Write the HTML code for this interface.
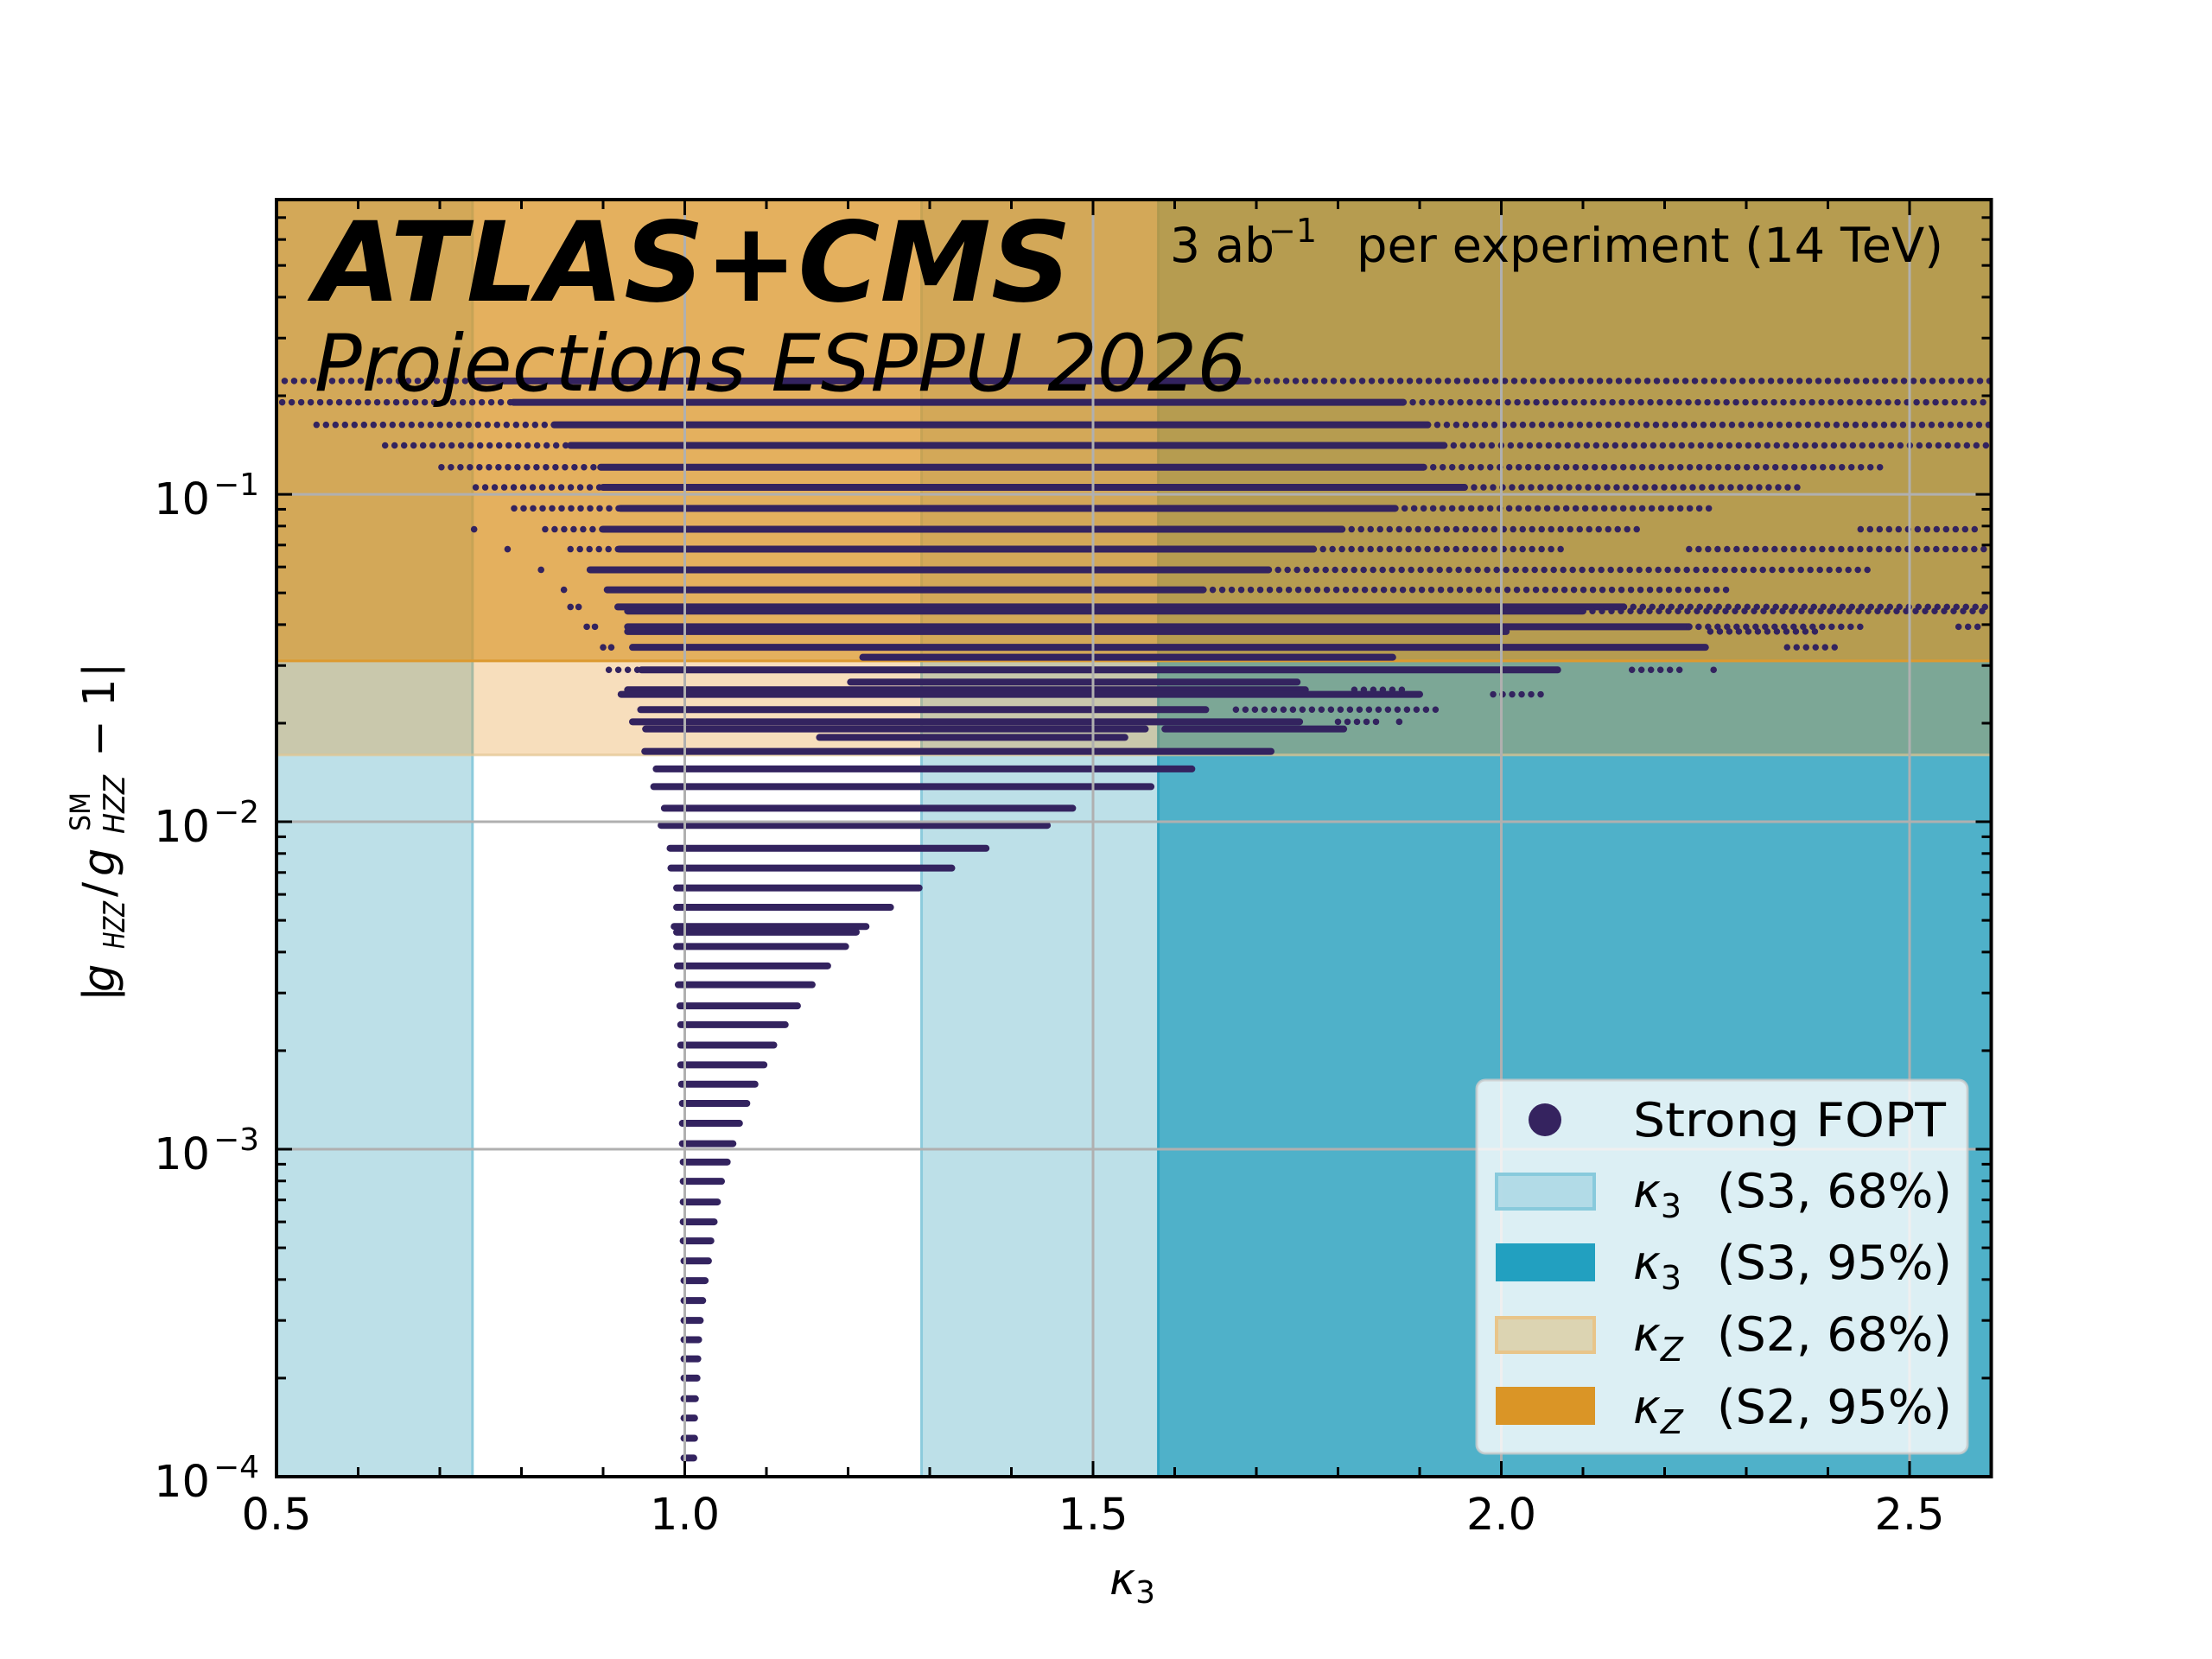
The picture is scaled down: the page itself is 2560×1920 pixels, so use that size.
<!DOCTYPE html>
<html><head><meta charset="utf-8">
<style>
html,body{margin:0;padding:0;background:#fff;}
svg{display:block;font-family:"DejaVu Sans","Liberation Sans",sans-serif;}
</style></head>
<body>
<svg id="chart" width="2560" height="1920" viewBox="0 0 2560 1920" xmlns="http://www.w3.org/2000/svg">
<rect x="0" y="0" width="2560" height="1920" fill="#ffffff"/>
<g id="bands"></g>
<g id="points"></g>
<g id="grid"></g>
<g id="texts">
  <text x="364" y="348" font-size="128" font-weight="bold" font-style="italic" textLength="876" lengthAdjust="spacingAndGlyphs">ATLAS+CMS</text>
  <text x="364" y="452" font-size="91" font-style="italic" textLength="1079" lengthAdjust="spacingAndGlyphs">Projections ESPPU 2026</text>
  <text x="1354" y="303" font-size="55">3 ab</text>
  <text x="1468" y="280" font-size="38">−1</text>
  <text x="1570" y="303" font-size="55" textLength="679" lengthAdjust="spacingAndGlyphs">per experiment (14 TeV)</text>
</g>
<g id="legend">
  <rect x="1709" y="1250" width="568" height="432" rx="10" fill="#ffffff" fill-opacity="0.8" stroke="#cccccc" stroke-opacity="0.8" stroke-width="3"/>
  <circle cx="1788" cy="1296" r="19" fill="#35235f"/>
  <text x="1890" y="1315" font-size="54" textLength="362" lengthAdjust="spacingAndGlyphs">Strong FOPT</text>
  <rect x="1732" y="1359" width="113" height="40" fill="#add8e6" fill-opacity="0.9" stroke="#88cadc" stroke-width="4"/>
  <text x="1890" y="1397" font-size="54"><tspan font-style="italic">κ</tspan><tspan font-size="38" dy="12">3</tspan></text>
  <text x="1987" y="1397" font-size="54" textLength="272" lengthAdjust="spacingAndGlyphs">(S3, 68%)</text>
  <rect x="1731" y="1439" width="115" height="44" fill="#22a0c0"/>
  <text x="1890" y="1480" font-size="54"><tspan font-style="italic">κ</tspan><tspan font-size="38" dy="12">3</tspan></text>
  <text x="1987" y="1480" font-size="54" textLength="272" lengthAdjust="spacingAndGlyphs">(S3, 95%)</text>
  <rect x="1732" y="1525" width="113" height="40" fill="#dcd4b2" stroke="#e8c58a" stroke-width="4"/>
  <text x="1890" y="1563" font-size="54"><tspan font-style="italic">κ</tspan><tspan font-size="38" font-style="italic" dy="12">Z</tspan></text>
  <text x="1987" y="1563" font-size="54" textLength="272" lengthAdjust="spacingAndGlyphs">(S2, 68%)</text>
  <rect x="1731" y="1605" width="115" height="44" fill="#da9526"/>
  <text x="1890" y="1647" font-size="54"><tspan font-style="italic">κ</tspan><tspan font-size="38" font-style="italic" dy="12">Z</tspan></text>
  <text x="1987" y="1647" font-size="54" textLength="272" lengthAdjust="spacingAndGlyphs">(S2, 95%)</text>
</g>
<g id="axes"></g>
<g>
  <text x="1284" y="1845" font-size="51" font-style="italic">κ<tspan font-size="36" font-style="normal" dy="10">3</tspan></text>
  <g transform="translate(132,968) rotate(-90)">
    <text x="-191" y="0" font-size="51">|</text>
    <text x="-180" y="0" font-size="51" font-style="italic">g</text>
    <text x="-130" y="12" font-size="34" font-style="italic" textLength="55" lengthAdjust="spacingAndGlyphs">HZZ</text>
    <text x="-70" y="0" font-size="51">/</text>
    <text x="-46" y="0" font-size="51" font-style="italic">g</text>
    <text x="6" y="-28" font-size="32" textLength="45" lengthAdjust="spacingAndGlyphs">SM</text>
    <text x="3" y="12" font-size="34" font-style="italic" textLength="68" lengthAdjust="spacingAndGlyphs">HZZ</text>
    <text x="92" y="0" font-size="51">−</text>
    <text x="150" y="0" font-size="51">1</text>
    <text x="184" y="0" font-size="51">|</text>
  </g>
</g>
</svg>
<script>
// ---- data ----
const xTicks = [0.5, 1.0, 1.5, 2.0, 2.5];
const xTickLabels = ["0.5", "1.0", "1.5", "2.0", "2.5"];
const yTicks = [1e-4, 1e-3, 1e-2, 1e-1];
const yTickExps = ["−4", "−3", "−2", "−1"];
const k3Band68 = [0.74, 1.29];
const k3Band95Low = 1.58;
const kzBand68 = 0.016;
const kzBand95 = 0.031;
// scan rows: y value, dense segments, sparse segments, isolated points (x = kappa3)
const rowVals = [0.222,0.191,0.163,0.141,0.121,0.105,0.0906,0.0782,0.068,0.0588,0.0511,0.0453,0.0440,0.0394,0.0381,0.0341,0.0318,0.0291,0.0267,0.0253,0.0245,0.0220,0.0202,0.0192,0.0181,0.0164,0.0145,0.0128,0.0110,
 9.75e-3,8.3e-3,7.22e-3,6.28e-3,5.48e-3,4.79e-3,4.6e-3,4.16e-3,3.63e-3,3.18e-3,2.74e-3,2.40e-3,2.08e-3,1.81e-3,1.58e-3,1.38e-3,1.2e-3,1.04e-3,9.14e-4,7.98e-4,6.9e-4,6.0e-4,5.25e-4,4.56e-4,3.97e-4,3.45e-4,3.0e-4,2.62e-4,2.29e-4,2.0e-4,1.73e-4,1.51e-4,1.31e-4,1.14e-4];
const rowDense = [
 [[0.746,1.69]],[[0.79,1.88]],[[0.84,1.91]],[[0.86,1.93]],[[0.897,1.905]],[[0.90,1.955]],[[0.921,1.87]],[[0.90,1.805]],[[0.92,1.77]],[[0.884,1.715]],
 [[0.905,1.635]],[[0.918,2.15]],[[0.93,2.10]],[[0.93,2.23]],[[0.93,2.006]],[[0.936,2.25]],[[1.218,1.867]],[[0.947,2.069]],[[1.203,1.75]],[[0.93,1.76]],
 [[0.922,1.90]],[[0.946,1.638]],[[0.936,1.753]],[[0.952,1.564],[1.588,1.807]],[[1.165,1.539]],[[0.951,1.718]],[[0.965,1.621]],[[0.962,1.571]],[[0.975,1.475]],
 [[0.971,1.444]],[[0.982,1.369]],[[0.983,1.327]],[[0.99,1.287]],[[0.99,1.252]],[[0.987,1.222]],[[0.99,1.21]],[[0.99,1.197]],[[0.991,1.175]],[[0.992,1.156]],
 [[0.994,1.138]],[[0.995,1.123]],[[0.995,1.109]],[[0.995,1.097]],[[0.996,1.086]],[[0.997,1.076]],[[0.997,1.067]],[[0.997,1.059]],[[0.998,1.052]],[[0.998,1.045]],
 [[0.998,1.040]],[[0.998,1.036]],[[0.998,1.032]],[[0.999,1.029]],[[0.999,1.025]],[[0.999,1.022]],[[0.999,1.019]],[[0.999,1.017]],[[0.999,1.016]],[[0.999,1.015]],
 [[0.999,1.013]],[[0.999,1.012]],[[0.999,1.012]],[[0.999,1.011]]];
const rowSparse = [
 [[0.51,0.746],[1.69,2.6]],[[0.507,0.79],[1.88,2.6]],[[0.549,0.84],[1.91,2.6]],[[0.633,0.86],[1.93,2.6]],[[0.702,0.897],[1.905,2.47]],[[0.744,0.90],[1.955,2.364]],
 [[0.791,0.921],[1.87,2.261]],[[0.829,0.90],[1.805,2.171],[2.44,2.58]],[[0.86,0.92],[1.77,2.077],[2.23,2.6]],[[1.715,2.457]],[[1.635,2.283]],[[2.15,2.6]],[[2.10,2.6]],
 [[2.23,2.44],[2.56,2.59]],[[2.256,2.39]],[[2.35,2.415]],[],[[0.907,0.947],[2.16,2.22]],[],[[1.82,1.88]],[[1.99,2.05]],[[1.675,1.923]],[[1.80,1.85]]];
const rowDots = [[],[],[],[],[],[],[],[0.742],[0.783],[0.824],[0.852],[0.86,0.87],[],[0.88,0.89],[],[0.90,0.91],[],[2.26],[],[],[],[],[1.875]];

// ---- scales ----
const X0 = 320, X1 = 2304.5, Y0 = 231, Y1 = 1709;
const xMin = 0.5, xMax = 2.6, lyMin = -4, lyMax = -0.1;
function sx(k){ return X0 + (k - xMin) / (xMax - xMin) * (X1 - X0); }
function sy(v){ return Y1 - (Math.log10(v) - lyMin) / (lyMax - lyMin) * (Y1 - Y0); }
const NS = "http://www.w3.org/2000/svg";
function mk(tag, attrs, parent){ const e = document.createElementNS(NS, tag); for (const k in attrs) e.setAttribute(k, attrs[k]); parent.appendChild(e); return e; }

// ---- bands ----
const gB = document.getElementById('bands');
let r;
r = mk('rect', {x: sx(xMin), y: Y0, width: sx(k3Band68[0]) - sx(xMin), height: Y1 - Y0, fill: '#bde0e8'}, gB);


r = mk('rect', {x: sx(k3Band68[1]), y: Y0, width: sx(k3Band95Low) - sx(k3Band68[1]), height: Y1 - Y0, fill: '#bde0e8'}, gB);


r = mk('rect', {x: sx(k3Band95Low), y: Y0, width: X1 - sx(k3Band95Low), height: Y1 - Y0, fill: '#4fb1c9'}, gB);


[[k3Band68[0], '#8ccbdc'], [k3Band68[1], '#8ccbdc'], [k3Band95Low, '#2ea3c2']].forEach(function(e){
  const l = mk('line', {x1: sx(e[0]), x2: sx(e[0]), y1: Y0, y2: Y1, stroke: e[1], 'stroke-width': 3}, gB);
  
  
});
r = mk('rect', {x: X0, y: sy(kzBand95), width: X1 - X0, height: sy(kzBand68) - sy(kzBand95), fill: '#e39321', 'fill-opacity': 0.3}, gB);


r = mk('rect', {x: X0, y: Y0, width: X1 - X0, height: sy(kzBand95) - Y0, fill: '#da9526', 'fill-opacity': 0.74}, gB);


r = mk('line', {x1: X0, x2: X1, y1: sy(kzBand95), y2: sy(kzBand95), stroke: '#dc9a30', 'stroke-width': 3}, gB);


r = mk('line', {x1: X0, x2: X1, y1: sy(kzBand68), y2: sy(kzBand68), stroke: '#e3c48e', 'stroke-width': 3, 'stroke-opacity': 0.7}, gB);



// ---- points ----
const gP = document.getElementById('points');
const PC = '#33235f';
rowVals.forEach(function(v, i){
  const y = sy(v);
  (rowDense[i] || []).forEach(function(s){
    const l = mk('line', {x1: sx(s[0]), x2: sx(s[1]), y1: y, y2: y, stroke: PC, 'stroke-width': 8, 'stroke-linecap': 'round'}, gP);
    
    
  });
  (rowSparse[i] || []).forEach(function(s){
    const l = mk('line', {x1: sx(s[0]), x2: sx(s[1]), y1: y, y2: y, stroke: PC, 'stroke-width': 7.5, 'stroke-linecap': 'round', 'stroke-dasharray': '0 11'}, gP);
    
    
  });
  (rowDots[i] || []).forEach(function(k){
    const c = mk('circle', {cx: sx(k), cy: y, r: 3.8, fill: PC}, gP);
    
    
  });
});

// ---- grid ----
const gG = document.getElementById('grid');
xTicks.forEach(function(t){
  const l = mk('line', {x1: sx(t), x2: sx(t), y1: Y0, y2: Y1, stroke: '#b0b0b0', 'stroke-width': 3}, gG);
  
  
});
yTicks.forEach(function(t){
  const l = mk('line', {x1: X0, x2: X1, y1: sy(t), y2: sy(t), stroke: '#b0b0b0', 'stroke-width': 3}, gG);
  
  
});

// ---- axes ----
const gA = document.getElementById('axes');
r = mk('rect', {x: X0, y: Y0, width: X1 - X0, height: Y1 - Y0, fill: 'none', stroke: '#000', 'stroke-width': 4}, gA);


for (let k = 5; k <= 26; k++){
  const x = sx(k / 10), len = (k % 5 === 0) ? 18 : 11;
  const a = mk('line', {x1: x, x2: x, y1: Y1, y2: Y1 - len, stroke: '#000', 'stroke-width': 3}, gA);
  
  
  const b = mk('line', {x1: x, x2: x, y1: Y0, y2: Y0 + len, stroke: '#000', 'stroke-width': 3}, gA);
  
  
}
for (let d = -4; d <= -1; d++){
  for (let m = 1; m <= 9; m++){
    const v = m * Math.pow(10, d);
    if (Math.log10(v) > lyMax) continue;
    const y = sy(v), len = (m === 1) ? 18 : 11;
    const a = mk('line', {x1: X0, x2: X0 + len, y1: y, y2: y, stroke: '#000', 'stroke-width': 3}, gA);
    
    
    const b = mk('line', {x1: X1, x2: X1 - len, y1: y, y2: y, stroke: '#000', 'stroke-width': 3}, gA);
    
    
  }
}
xTicks.forEach(function(t, i){
  const tx = mk('text', {x: sx(t), y: 1770, 'font-size': 51, 'text-anchor': 'middle'}, gA);
  tx.textContent = xTickLabels[i];
  
  
});
yTicks.forEach(function(t, i){
  const y = sy(t);
  const a = mk('text', {x: 243, y: y + 23, 'font-size': 51, 'text-anchor': 'end'}, gA);
  a.textContent = '10';
  
  
  const b = mk('text', {x: 247, y: y + 1, 'font-size': 36}, gA);
  b.textContent = yTickExps[i];
  
  
});
</script>
</body></html>
